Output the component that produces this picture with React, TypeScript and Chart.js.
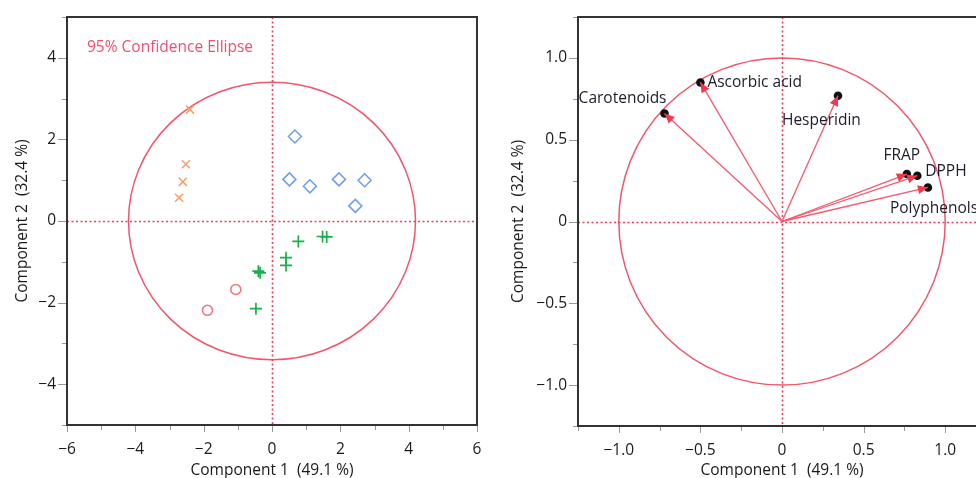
import React, { useEffect, useRef } from 'react';
import { Chart, registerables } from 'chart.js';
Chart.register(...registerables);

const FONT = '"Open Sans", "Noto Sans", sans-serif';
const FS = 15.5;

// ---- Score plot data ----
const GROUP_X_X = [-2.40, -2.52, -2.61, -2.72];
const GROUP_X_Y = [2.73, 1.39, 0.96, 0.57];
const GROUP_DIAMOND_X = [0.67, 0.51, 1.11, 1.96, 2.71, 2.44];
const GROUP_DIAMOND_Y = [2.07, 1.02, 0.85, 1.02, 1.00, 0.37];
const GROUP_PLUS_X = [0.77, 1.48, 1.60, 0.41, 0.41, -0.40, -0.35, -0.47];
const GROUP_PLUS_Y = [-0.50, -0.38, -0.39, -0.90, -1.09, -1.23, -1.27, -2.15];
const GROUP_CIRCLE_X = [-1.06, -1.89];
const GROUP_CIRCLE_Y = [-1.68, -2.19];
const ELLIPSE_RX = 4.2;
const ELLIPSE_RY = 3.4;
const ELLIPSE_LABEL = '95% Confidence Ellipse';
const SCORE_X_RANGE = [-6, 6];
const SCORE_Y_RANGE = [-5, 5];

// ---- Loadings plot data ----
const VARIABLES = ['Carotenoids', 'Ascorbic acid', 'Hesperidin', 'FRAP', 'DPPH', 'Polyphenols'];
const LOAD_X = [-0.72, -0.50, 0.343, 0.765, 0.829, 0.894];
const LOAD_Y = [0.66, 0.85, 0.769, 0.290, 0.280, 0.208];
const CIRCLE_R = 1;
const LOAD_RANGE = [-1.25, 1.25];

const X_TITLE = 'Component 1  (49.1 %)';
const Y_TITLE = 'Component 2  (32.4 %)';

// label placement (style only)
const LABEL_STYLE: [CanvasTextAlign, number, number][] = [
  ['right', 2, -15],
  ['left', 7, 0],
  ['left', -56, 25],
  ['center', -5, -18],
  ['left', 8, -4],
  ['left', -38, 21],
];

const RED = '#f2566c';
const DOT_RED = '#f03c5a';
const TICK_COLOR = '#1a1a1a';

const pts = (xs: number[], ys: number[]) => xs.map((x, i) => ({ x, y: ys[i] }));
const minus = (s: string) => s.replace('-', '\u2212');

function frameAndTicks(isMajor: (v: number) => boolean) {
  return {
    id: 'frameTicks',
    afterDraw(chart: any) {
      const { ctx, chartArea: a, scales } = chart;
      const x = scales.x, y = scales.y;
      ctx.save();
      ctx.strokeStyle = '#999';
      ctx.lineWidth = 1;
      ctx.beginPath();
      x.ticks.forEach((t: any) => {
        const px = Math.round(x.getPixelForValue(t.value)) + 0.5;
        const len = isMajor(t.value) ? 7 : 5;
        ctx.moveTo(px, a.bottom);
        ctx.lineTo(px, a.bottom + len);
      });
      y.ticks.forEach((t: any) => {
        const py = Math.round(y.getPixelForValue(t.value)) + 0.5;
        const len = isMajor(t.value) ? 9 : 5;
        ctx.moveTo(a.left, py);
        ctx.lineTo(a.left - len, py);
      });
      ctx.stroke();
      ctx.strokeStyle = '#333';
      ctx.lineWidth = 2;
      ctx.strokeRect(a.left, a.top, a.right - a.left, a.bottom - a.top);
      ctx.restore();
    },
  };
}

const zeroLinesAndShape = (rx: number, ry: number, text?: string) => ({
  id: 'zeroShape',
  beforeDatasetsDraw(chart: any) {
    const { ctx, chartArea: a, scales } = chart;
    const x = scales.x, y = scales.y;
    const cx = x.getPixelForValue(0), cy = y.getPixelForValue(0);
    ctx.save();
    ctx.beginPath();
    ctx.rect(a.left, a.top, a.right - a.left, a.bottom - a.top);
    ctx.clip();
    ctx.strokeStyle = RED;
    ctx.lineWidth = 1.5;
    ctx.beginPath();
    ctx.ellipse(cx, cy, Math.abs(x.getPixelForValue(rx) - cx), Math.abs(y.getPixelForValue(ry) - cy), 0, 0, Math.PI * 2);
    ctx.stroke();
    ctx.strokeStyle = DOT_RED;
    ctx.lineWidth = 1.6;
    ctx.setLineDash([2, 2.5]);
    ctx.beginPath();
    ctx.moveTo(Math.round(cx) + 0.5, a.top);
    ctx.lineTo(Math.round(cx) + 0.5, a.bottom);
    ctx.moveTo(a.left, Math.round(cy) + 0.5);
    ctx.lineTo(a.right, Math.round(cy) + 0.5);
    ctx.stroke();
    ctx.setLineDash([]);
    if (text) {
      ctx.fillStyle = '#f0506e';
      ctx.font = `${FS}px ${FONT}`;
      ctx.textAlign = 'left';
      ctx.textBaseline = 'middle';
      ctx.fillText(text, a.left + 20, a.top + 31);
    }
    ctx.restore();
  },
});

const arrowPlugin = {
  id: 'arrows',
  afterDatasetsDraw(chart: any) {
    const { ctx, scales } = chart;
    const x = scales.x, y = scales.y;
    const ox = x.getPixelForValue(0), oy = y.getPixelForValue(0);
    ctx.save();
    LOAD_X.forEach((lx, i) => {
      const px = x.getPixelForValue(lx), py = y.getPixelForValue(LOAD_Y[i]);
      const ang = Math.atan2(py - oy, px - ox);
      const L = 10, W = 4.5;
      const bx = px - L * Math.cos(ang), by = py - L * Math.sin(ang);
      ctx.fillStyle = '#f4364f';
      ctx.beginPath();
      ctx.moveTo(px, py);
      ctx.lineTo(bx + W * Math.sin(ang), by - W * Math.cos(ang));
      ctx.lineTo(bx - W * Math.sin(ang), by + W * Math.cos(ang));
      ctx.closePath();
      ctx.fill();
    });
    ctx.fillStyle = '#1c1c2a';
    ctx.font = `${FS}px ${FONT}`;
    ctx.textBaseline = 'middle';
    VARIABLES.forEach((name, i) => {
      const px = x.getPixelForValue(LOAD_X[i]), py = y.getPixelForValue(LOAD_Y[i]);
      const [al, dx, dy] = LABEL_STYLE[i];
      ctx.textAlign = al;
      ctx.fillText(name, px + dx, py + dy);
    });
    ctx.restore();
  },
};

function axisOptions(min: number, max: number, step: number, fmt: (v: number) => string, horizontal: boolean, size: number, titlePad: number) {
  return {
    type: 'linear',
    min,
    max,
    border: { display: false },
    grid: { display: false, drawTicks: false },
    ticks: {
      stepSize: step,
      color: TICK_COLOR,
      font: { family: FONT, size: FS },
      padding: horizontal ? 15 : 11,
      maxRotation: 0,
      autoSkip: false,
      callback: (v: any) => fmt(Number(v)),
    },
    title: {
      display: true,
      text: horizontal ? X_TITLE : Y_TITLE,
      color: TICK_COLOR,
      font: { family: FONT, size: FS },
      padding: horizontal ? { top: 0, bottom: titlePad } : { top: titlePad, bottom: 0 },
    },
    afterFit: (s: any) => {
      if (horizontal) {
        s.height = size;
        s.paddingLeft = 0;
        s.paddingRight = 0;
      } else {
        s.width = size;
        s.paddingTop = 0;
        s.paddingBottom = 0;
      }
    },
  };
}

const near = (v: number, step: number) => Math.abs(v / step - Math.round(v / step)) < 1e-6;

function ScorePlot() {
  const ref = useRef<HTMLCanvasElement>(null);
  useEffect(() => {
    const fmt = (v: number) => (near(v, 2) ? minus(String(Math.round(v))) : '');
    const chart = new Chart(ref.current!, {
      type: 'scatter',
      data: {
        datasets: [
          { data: pts(GROUP_X_X, GROUP_X_Y), pointStyle: 'crossRot', radius: 5.7, borderColor: '#f3a067', borderWidth: 1.5, backgroundColor: 'transparent' },
          { data: pts(GROUP_DIAMOND_X, GROUP_DIAMOND_Y), pointStyle: 'rectRot', radius: 6.5, borderColor: '#6d9deb', borderWidth: 1.5, backgroundColor: 'transparent' },
          { data: pts(GROUP_PLUS_X, GROUP_PLUS_Y), pointStyle: 'cross', radius: 6, borderColor: '#17b04a', borderWidth: 1.7, backgroundColor: 'transparent' },
          { data: pts(GROUP_CIRCLE_X, GROUP_CIRCLE_Y), pointStyle: 'circle', radius: 5, borderColor: '#f5707f', borderWidth: 1.5, backgroundColor: 'transparent' },
        ] as any,
      },
      options: {
        animation: false,
        responsive: false,
        layout: { padding: { top: 17, right: 13, left: 0, bottom: 0 } },
        plugins: { legend: { display: false }, tooltip: { enabled: false } },
        scales: {
          x: axisOptions(SCORE_X_RANGE[0], SCORE_X_RANGE[1], 1, fmt, true, 53, -2),
          y: axisOptions(SCORE_Y_RANGE[0], SCORE_Y_RANGE[1], 1, fmt, false, 67, 13),
        } as any,
      },
      plugins: [zeroLinesAndShape(ELLIPSE_RX, ELLIPSE_RY, ELLIPSE_LABEL), frameAndTicks((v) => near(v, 2))],
    });
    return () => chart.destroy();
  }, []);
  return <canvas ref={ref} width={490} height={478} style={{ position: 'absolute', left: 0, top: 0 }} />;
}

function LoadingPlot() {
  const ref = useRef<HTMLCanvasElement>(null);
  useEffect(() => {
    const fmt = (v: number) => (near(v, 0.5) ? (Math.abs(v) < 1e-9 ? '0' : minus(v.toFixed(1))) : '');
    const arrowSets = LOAD_X.map((lx, i) => ({
      type: 'line',
      data: [{ x: 0, y: 0 }, { x: lx, y: LOAD_Y[i] }],
      borderColor: '#f5586e',
      borderWidth: 1.3,
      pointRadius: 0,
      showLine: true,
    }));
    const chart = new Chart(ref.current!, {
      type: 'scatter',
      data: {
        datasets: [
          ...arrowSets,
          { data: pts(LOAD_X, LOAD_Y), pointStyle: 'circle', radius: 4.3, backgroundColor: '#111', borderColor: '#111', borderWidth: 0 },
        ] as any,
      },
      options: {
        animation: false,
        responsive: false,
        layout: { padding: { top: 17, right: 14, left: 0, bottom: 0 } },
        plugins: { legend: { display: false }, tooltip: { enabled: false } },
        scales: {
          x: axisOptions(LOAD_RANGE[0], LOAD_RANGE[1], 0.25, fmt, true, 52, -2),
          y: axisOptions(LOAD_RANGE[0], LOAD_RANGE[1], 0.25, fmt, false, 88, 19),
        } as any,
      },
      plugins: [zeroLinesAndShape(CIRCLE_R, CIRCLE_R), arrowPlugin, frameAndTicks((v) => near(v, 0.5))],
    });
    return () => chart.destroy();
  }, []);
  return <canvas ref={ref} width={510} height={478} style={{ position: 'absolute', left: 490, top: 0 }} />;
}

export default function App() {
  return (
    <div style={{ position: 'fixed', left: 0, top: 0, width: 976, height: 478, overflow: 'hidden', background: '#fff' }}>
      <ScorePlot />
      <LoadingPlot />
    </div>
  );
}
